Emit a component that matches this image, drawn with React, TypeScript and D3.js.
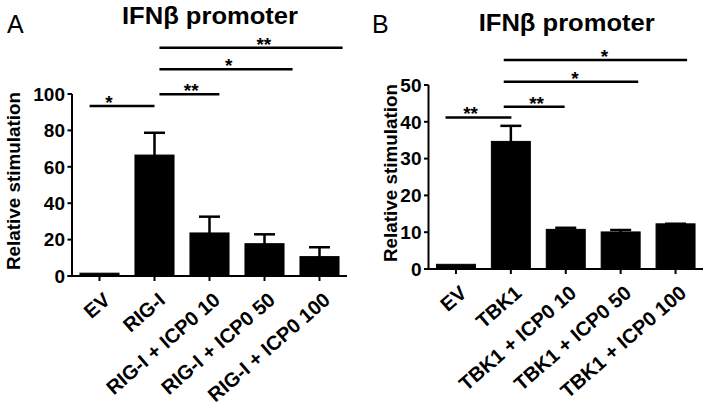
import React, { useEffect, useRef } from 'react';
import * as d3 from 'd3';

// panel A – RIG-I
const labelsA = ['EV', 'RIG-I', 'RIG-I + ICP0 10', 'RIG-I + ICP0 50', 'RIG-I + ICP0 100'];
const meansA = [1, 65.9, 23.1, 17.2, 10.1];
const errA = [0, 12.8, 9.5, 5.7, 5.7];
const ticksA = [0, 20, 40, 60, 80, 100];
// significance brackets: from/to are category positions, at = star position along the line
const sigA = [
  { from: -0.18, to: 1, y: 93.4, label: '*', at: 0.3 },
  { from: 1.09, to: 2.18, y: 99.8, label: '**', at: 0.53 },
  { from: 1.09, to: 3.51, y: 113.6, label: '*', at: 0.52 },
  { from: 1.09, to: 4.42, y: 125.4, label: '**', at: 0.57 },
];

// panel B – TBK1
const labelsB = ['EV', 'TBK1', 'TBK1 + ICP0 10', 'TBK1 + ICP0 50', 'TBK1 + ICP0 100'];
const meansB = [1, 34.4, 10.5, 9.8, 12.0];
const errB = [0, 4.5, 0.7, 0.8, 0.3];
const ticksB = [0, 10, 20, 30, 40, 50];
const sigB = [
  { from: -0.19, to: 1.01, y: 41.2, label: '**', at: 0.38 },
  { from: 0.87, to: 1.98, y: 44.1, label: '**', at: 0.54 },
  { from: 0.87, to: 3.32, y: 50.9, label: '*', at: 0.53 },
  { from: 0.87, to: 4.21, y: 56.8, label: '*', at: 0.55 },
];

const FONT = 'Liberation Sans, Arial, sans-serif';

function drawPanel(svg, cfg) {
  const { labels, means, errs, ticks, sigs, yMax, xRange, yRange, letter, letterX, titleX, titleY, yLabelX } = cfg;
  const g = svg.append('g');

  const x = d3.scaleBand().domain(labels).range(xRange).paddingInner(0.29).paddingOuter(0.145);
  const y = d3.scaleLinear().domain([0, yMax]).range(yRange);
  const bw = x.bandwidth();
  const xIdx = d3.scaleLinear().domain([0, labels.length - 1])
    .range([x(labels[0]) + bw / 2, x(labels[labels.length - 1]) + bw / 2]);

  // bars
  g.selectAll('.bar')
    .data(means)
    .join('rect')
    .attr('x', (d, i) => x(labels[i]))
    .attr('y', d => y(d) - 1)
    .attr('width', bw)
    .attr('height', d => y(0) - y(d) + 1)
    .attr('fill', '#000')
    .attr('stroke', '#000')
    .attr('stroke-width', 1);

  // error bars (upper only)
  means.forEach((m, i) => {
    if (!errs[i]) return;
    const cx = x(labels[i]) + bw / 2;
    g.append('line').attr('x1', cx).attr('x2', cx).attr('y1', y(m)).attr('y2', y(m + errs[i]))
      .attr('stroke', '#000').attr('stroke-width', 2.5);
    g.append('line').attr('x1', cx - 10.5).attr('x2', cx + 10.5).attr('y1', y(m + errs[i])).attr('y2', y(m + errs[i]))
      .attr('stroke', '#000').attr('stroke-width', 2.5);
  });

  // y axis
  const x0 = xRange[0];
  g.append('line').attr('x1', x0).attr('x2', x0).attr('y1', y(0)).attr('y2', y(yMax))
    .attr('stroke', '#000').attr('stroke-width', 2);
  g.selectAll('.ytick')
    .data(ticks)
    .join('line')
    .attr('x1', x0 - 4.5).attr('x2', x0)
    .attr('y1', d => y(d)).attr('y2', d => y(d))
    .attr('stroke', '#000').attr('stroke-width', 2);
  g.selectAll('.ylab')
    .data(ticks)
    .join('text')
    .attr('x', x0 - 7)
    .attr('y', d => y(d))
    .attr('dy', '0.36em')
    .attr('text-anchor', 'end')
    .attr('font-family', FONT)
    .attr('font-weight', 'bold')
    .attr('font-size', 19)
    .text(d => d);

  // x axis
  g.append('line').attr('x1', x0 - 4.5).attr('x2', xRange[1]).attr('y1', y(0)).attr('y2', y(0))
    .attr('stroke', '#000').attr('stroke-width', 2);
  g.selectAll('.xtick')
    .data(labels)
    .join('line')
    .attr('x1', d => x(d) + bw / 2).attr('x2', d => x(d) + bw / 2)
    .attr('y1', y(0)).attr('y2', y(0) + 5)
    .attr('stroke', '#000').attr('stroke-width', 2);
  g.selectAll('.xlab')
    .data(labels)
    .join('text')
    .attr('transform', d => `translate(${x(d) + bw / 2 + 12},${y(0) + 26}) rotate(-41)`)
    .attr('text-anchor', 'end')
    .attr('font-family', FONT)
    .attr('font-weight', 'bold')
    .attr('font-size', 20)
    .text(d => d);

  // y label
  g.append('text')
    .attr('transform', `translate(${yLabelX},${(y(0) + y(yMax)) / 2 - 4}) rotate(-90)`)
    .attr('text-anchor', 'middle')
    .attr('font-family', FONT)
    .attr('font-weight', 'bold')
    .attr('font-size', 19)
    .attr('textLength', 178)
    .attr('lengthAdjust', 'spacingAndGlyphs')
    .text('Relative stimulation');

  // significance brackets
  sigs.forEach(s => {
    const xa = xIdx(s.from), xb = xIdx(s.to);
    g.append('line').attr('x1', xa).attr('x2', xb).attr('y1', y(s.y)).attr('y2', y(s.y))
      .attr('stroke', '#000').attr('stroke-width', 2.5);
    g.append('text')
      .attr('x', xa + (xb - xa) * s.at)
      .attr('y', y(s.y) + 3)
      .attr('text-anchor', 'middle')
      .attr('font-family', FONT)
      .attr('font-weight', 'bold')
      .attr('font-size', 19)
      .text(s.label);
  });

  // title and panel letter
  g.append('text')
    .attr('x', titleX).attr('y', titleY)
    .attr('text-anchor', 'middle')
    .attr('font-family', FONT)
    .attr('font-weight', 'bold')
    .attr('font-size', 23)
    .attr('textLength', 176)
    .attr('lengthAdjust', 'spacingAndGlyphs')
    .text('IFNβ promoter');
  g.append('text')
    .attr('x', letterX).attr('y', 33)
    .attr('font-family', FONT)
    .attr('font-size', 25)
    .text(letter);
}

export default function App() {
  const ref = useRef(null);

  useEffect(() => {
    const svg = d3.select(ref.current);
    svg.selectAll('*').remove();
    drawPanel(svg, {
      labels: labelsA, means: meansA, errs: errA, ticks: ticksA, sigs: sigA, yMax: 100,
      xRange: [72, 347], yRange: [276, 94], letter: 'A', letterX: 7, titleX: 210, titleY: 23.5, yLabelX: 19.5,
    });
    drawPanel(svg, {
      labels: labelsB, means: meansB, errs: errB, ticks: ticksB, sigs: sigB, yMax: 50,
      xRange: [428.5, 703], yRange: [269, 85], letter: 'B', letterX: 372, titleX: 566.7, titleY: 31, yLabelX: 396.5,
    });
  }, []);

  return (
    <svg ref={ref} width={712} height={413}
      style={{ position: 'absolute', left: 0, top: 0, background: '#fff' }} />
  );
}
